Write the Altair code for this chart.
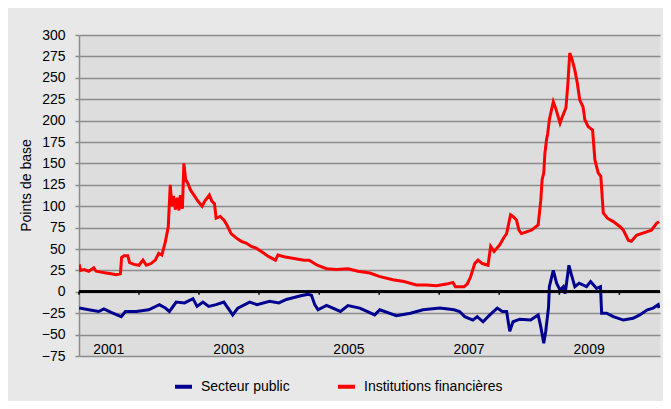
import altair as alt
import pandas as pd

# Institutions financières (red)
fin_dates = ["2001-01-02","2001-01-10","2001-02-01","2001-03-01","2001-04-01","2001-04-15","2001-05-15","2001-06-15","2001-07-15","2001-08-15",
 "2001-09-10","2001-09-17","2001-10-01","2001-10-25","2001-11-05","2001-12-01","2002-01-01","2002-01-25","2002-02-15","2002-03-15",
 "2002-04-10","2002-05-01","2002-05-20","2002-06-10","2002-06-28","2002-07-10","2002-07-20","2002-07-30","2002-08-10","2002-08-22",
 "2002-09-01","2002-09-10","2002-09-22","2002-10-01","2002-10-12","2002-10-25","2002-11-10","2002-12-01","2002-12-25","2003-01-20",
 "2003-02-05","2003-03-05","2003-03-20","2003-04-05","2003-04-15","2003-05-10","2003-06-01","2003-06-20","2003-07-15","2003-08-15",
 "2003-09-15","2003-10-15","2003-11-15","2003-12-15","2004-01-15","2004-03-01","2004-04-10","2004-04-25","2004-06-01","2004-08-01",
 "2004-10-01","2004-11-01","2004-12-20","2005-02-15","2005-04-15","2005-06-25","2005-08-25","2005-11-05","2006-01-01","2006-03-25",
 "2006-06-01","2006-08-15","2006-10-15","2006-12-15","2007-02-15","2007-03-25","2007-04-10","2007-06-01","2007-06-20","2007-07-10",
 "2007-08-05","2007-08-25","2007-09-20","2007-10-25","2007-11-10","2007-12-01","2008-01-05","2008-01-25","2008-02-15","2008-03-10",
 "2008-03-25","2008-04-15","2008-04-30","2008-05-15","2008-06-15","2008-07-15","2008-08-25","2008-09-10","2008-09-18","2008-09-28",
 "2008-10-05","2008-10-15","2008-10-22","2008-11-01","2008-11-10","2008-11-25","2008-12-10","2009-01-05","2009-01-20","2009-02-10",
 "2009-02-22","2009-03-05","2009-03-20","2009-04-05","2009-04-20","2009-05-05","2009-05-25","2009-06-05","2009-06-25","2009-07-22",
 "2009-08-05","2009-08-25","2009-09-10","2009-09-25","2009-10-20","2009-11-25","2010-01-05","2010-01-25","2010-02-25","2010-03-15",
 "2010-04-15","2010-06-15","2010-07-15","2010-08-15","2010-08-30"]
fin_values = [32,25,26,24,28,24,23,22,21,20,
 21,40,42,42,34,32,31,37,31,33,
 37,45,43,58,76,125,100,112,96,110,
 95,113,97,150,131,127,119,113,106,100,
 106,113,106,103,86,88,84,78,68,63,
 59,57,53,51,47,41,37,43,41,39,
 37,37,31,27,26,27,24,22,18,14,
 12,8,8,7,9,11,6,6,9,17,
 33,37,33,31,53,47,55,62,68,90,
 88,84,72,68,70,72,78,107,131,139,
 162,178,185,201,209,222,214,197,205,215,
 244,279,271,259,244,224,216,201,193,189,
 154,139,135,92,86,82,76,72,60,59,
 66,70,72,80,82]

# Secteur public (blue)
pub_dates = ["2001-01-02","2001-03-01","2001-05-01","2001-06-01","2001-07-15","2001-09-15","2001-10-10","2001-12-15","2002-03-01","2002-05-05",
 "2002-06-10","2002-07-05","2002-08-15","2002-10-05","2002-11-25","2002-12-20","2003-01-25","2003-03-01","2003-04-15","2003-06-01",
 "2003-07-25","2003-08-25","2003-11-05","2003-12-20","2004-03-05","2004-05-01","2004-06-15","2004-09-05","2004-10-25","2004-11-15",
 "2004-12-05","2004-12-25","2005-02-15","2005-05-10","2005-06-25","2005-09-05","2005-12-05","2006-01-05","2006-04-15","2006-07-10",
 "2006-09-25","2007-01-05","2007-04-01","2007-05-05","2007-06-05","2007-07-25","2007-08-20","2007-09-25","2007-11-05","2007-12-20",
 "2008-01-20","2008-02-15","2008-03-05","2008-03-25","2008-05-05","2008-07-10","2008-08-25","2008-09-10","2008-09-28","2008-10-10",
 "2008-10-27","2008-11-01","2008-11-25","2008-12-15","2009-01-05","2009-01-25","2009-02-05","2009-02-28","2009-03-15","2009-04-05",
 "2009-05-01","2009-06-15","2009-07-10","2009-08-15","2009-09-08","2009-09-15","2009-10-15","2009-11-25","2010-01-25","2010-03-25",
 "2010-05-05","2010-06-20","2010-07-25","2010-08-25","2010-08-30"]
pub_values = [-19,-21,-23,-20,-24,-29,-23,-23,-21,-15,
 -19,-23,-12,-13,-8,-17,-12,-17,-15,-12,
 -27,-19,-12,-15,-11,-13,-9,-5,-3,-4,
 -15,-21,-16,-23,-16,-19,-27,-21,-28,-25,
 -21,-19,-21,-23,-29,-33,-29,-35,-27,-19,
 -23,-23,-46,-35,-32,-33,-27,-41,-60,-46,
 -18,6,25,10,2,6,-2,31,20,6,
 10,6,12,4,6,-25,-25,-29,-33,-31,
 -27,-21,-19,-15,-19]

series_names = ["Secteur public", "Institutions financières"]
series_colors = ["#000090", "#ff0000"]
year_ticks = ["2001-01-01","2002-01-01","2003-01-01","2004-01-01","2005-01-01","2006-01-01","2007-01-01","2008-01-01","2009-01-01","2010-01-01"]
year_labels = ["2001", "2003", "2005", "2007", "2009"]
year_label_dates = ["2001-07-01", "2003-07-01", "2005-07-01", "2007-07-01", "2009-07-01"]
y_ticks = [-75, -50, -25, 0, 25, 50, 75, 100, 125, 150, 175, 200, 225, 250, 275, 300]

df = pd.concat([
    pd.DataFrame({"date": pub_dates, "value": pub_values, "series": series_names[0]}),
    pd.DataFrame({"date": fin_dates, "value": fin_values, "series": series_names[1]}),
])
ticks_df = pd.DataFrame({"date": year_ticks})
labels_df = pd.DataFrame({"date": year_label_dates, "label": year_labels})

FONT = "Liberation Sans"
xscale = alt.Scale(domain=["2001-01-01", "2010-09-05"], nice=False)
yscale = alt.Scale(domain=[-75, 300], nice=False, zero=False)
noaxis_x = alt.X("date:T", scale=xscale, axis=None)

lines = alt.Chart(df).mark_line(strokeWidth=3, clip=True).encode(
    x=alt.X("date:T", scale=xscale, axis=None),
    y=alt.Y("value:Q", scale=yscale, axis=alt.Axis(
        values=y_ticks, title="Points de base", grid=True, gridColor="#8c8c8c", gridWidth=1.5,
        domainColor="#8c8c8c", domainWidth=1.5, tickColor="#8c8c8c", tickSize=4, tickWidth=1.5,
        labelFont=FONT, labelFontSize=14, labelColor="#000000", labelPadding=10,
        labelOverlap=False,
        titleFont=FONT, titleFontSize=14, titleFontWeight="normal", titleColor="#000000",
        titlePadding=8, titleY=150)),
    color=alt.Color("series:N", scale=alt.Scale(domain=series_names, range=series_colors),
                    legend=alt.Legend(title=None, orient="none", direction="horizontal",
                                      legendX=94, legendY=341, symbolType="stroke",
                                      symbolSize=289, symbolStrokeWidth=4, labelOffset=7,
                                      columnPadding=40, labelFont=FONT,
                                      labelFontSize=14, labelColor="#000000", padding=0)),
    order=alt.Order("series:N"),
)

zero = alt.Chart(ticks_df).mark_rule(color="#000000", strokeWidth=2).encode(
    y=alt.YDatum(0, axis=None),
)

ticks = alt.Chart(ticks_df).mark_rule(color="#000000", strokeWidth=1.5).encode(
    x=noaxis_x,
    y=alt.YDatum(0, axis=None),
    y2=alt.Y2Datum(-3.5),
)

labels = alt.Chart(labels_df).mark_text(font=FONT, fontSize=14, color="#000000",
                                        baseline="alphabetic", dy=-2).encode(
    x=noaxis_x,
    y=alt.YDatum(-75, axis=None),
    text="label:N",
)

chart = alt.layer(lines, zero, ticks, labels).resolve_axis(y="independent").properties(
    width=581, height=321,
    autosize=alt.AutoSizeParams(type="none"),
    padding={"left": 71, "top": 27, "right": 3, "bottom": 45},
    background="#e8e8e8",
).configure_view(fill="#dddddd", stroke=None).configure_axisY(labelOverlap=False)

chart.save("out.html", embed_options={"renderer": "svg", "actions": False})
